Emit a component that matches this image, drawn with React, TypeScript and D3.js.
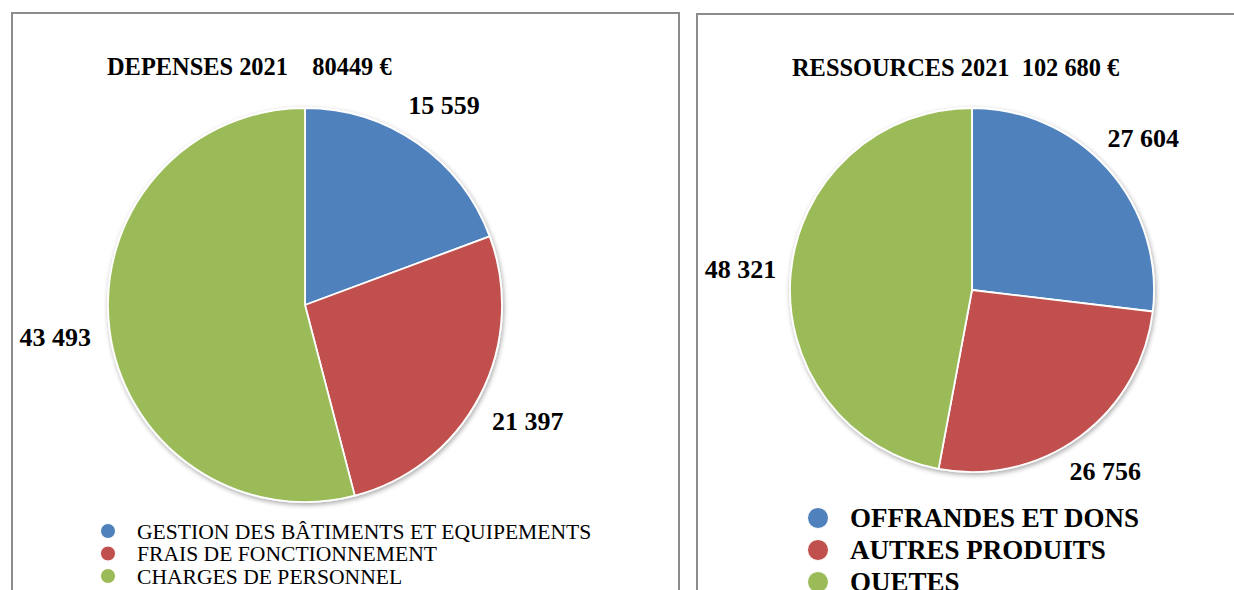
import React from "react";
import * as d3 from "d3";

const depCategories = ["GESTION DES BÂTIMENTS ET EQUIPEMENTS", "FRAIS DE FONCTIONNEMENT", "CHARGES DE PERSONNEL"];
const depValues = [15559, 21397, 43493];
const depLabels = ["15 559", "21 397", "43 493"];
const depTitle = "DEPENSES 2021\u00a0\u00a0\u00a0 80449 €";

const resCategories = ["OFFRANDES ET DONS", "AUTRES PRODUITS", "QUETES"];
const resValues = [27604, 26756, 48321];
const resLabels = ["27 604", "26 756", "48 321"];
const resTitle = "RESSOURCES 2021\u00a0 102 680 €";

const colors = ["#4F81BD", "#C0504D", "#9BBB59"];
const FONT = "'Liberation Serif', 'Times New Roman', serif";
const LABEL_SIZE = 26;

type PieProps = {
  cx: number; cy: number; r: number; values: number[]; labels: string[]; pad: number; id: string;
};

function Pie({ cx, cy, r, values, labels, pad, id }: PieProps) {
  const pie = d3.pie<number>().sort(null).value((d) => d);
  const arcs = pie(values);
  const arc = d3.arc<d3.PieArcDatum<number>>().innerRadius(0).outerRadius(r);
  return (
    <g transform={`translate(${cx},${cy})`}>
      <g filter={`url(#shadow-${id})`}>
        {arcs.map((a, i) => (
          <path key={i} d={arc(a) || ""} fill={colors[i]} stroke="#ffffff" strokeWidth={1.8} strokeLinejoin="round" />
        ))}
      </g>
      {arcs.map((a, i) => {
        const mid = (a.startAngle + a.endAngle) / 2;
        const s = Math.sin(mid);
        const c = Math.cos(mid);
        const w = LABEL_SIZE * 2.75;
        const h = LABEL_SIZE * 0.75;
        const R = r + pad + Math.abs(s) * w / 2 + Math.abs(c) * h / 2;
        const x = R * s;
        const y = -R * c;
        return (
          <text key={i} x={x} y={y} dy="0.35em" textAnchor="middle" fontFamily={FONT} fontWeight="bold" fontSize={LABEL_SIZE} fill="#000">
            {labels[i]}
          </text>
        );
      })}
    </g>
  );
}

export default function App() {
  return (
    <svg width={1234} height={590} style={{ position: "absolute", left: 0, top: 0, background: "#fff" }}>
      <defs>
        {["l", "r"].map((id) => (
          <filter key={id} id={`shadow-${id}`} x="-20%" y="-20%" width="140%" height="140%">
            <feGaussianBlur in="SourceAlpha" stdDeviation="2.5" />
            <feOffset dx="1" dy="2" result="ob" />
            <feComponentTransfer>
              <feFuncA type="linear" slope="0.35" />
            </feComponentTransfer>
            <feMerge>
              <feMergeNode />
              <feMergeNode in="SourceGraphic" />
            </feMerge>
          </filter>
        ))}
      </defs>
      <rect x={0} y={0} width={1234} height={590} fill="#fff" />
      {/* panel borders */}
      <rect x={12} y={13} width={667} height={600} fill="none" stroke="#8c8c8c" strokeWidth={2} />
      <rect x={697} y={14} width={600} height={600} fill="none" stroke="#8c8c8c" strokeWidth={2} />

      {/* left chart */}
      <text x={107} y={75} fontFamily={FONT} fontWeight="bold" fontSize={24.4} fill="#000" style={{ whiteSpace: "pre" }}>
        {depTitle}
      </text>
      <Pie cx={305} cy={305} r={197} values={depValues} labels={depLabels} pad={18} id="l" />
      {depCategories.map((c, i) => (
        <g key={c}>
          <circle cx={108} cy={531 + i * 22.5} r={7.5} fill={colors[i]} stroke="#fff" strokeWidth={1} />
          <text x={137} y={531 + i * 22.5} dy="0.35em" fontFamily={FONT} fontSize={21.6} fill="#000">
            {c}
          </text>
        </g>
      ))}

      {/* right chart */}
      <text x={792} y={76} fontFamily={FONT} fontWeight="bold" fontSize={24.4} fill="#000" style={{ whiteSpace: "pre" }}>
        {resTitle}
      </text>
      <Pie cx={972} cy={290} r={182} values={resValues} labels={resLabels} pad={14} id="r" />
      {resCategories.map((c, i) => (
        <g key={c}>
          <circle cx={818} cy={518 + i * 32} r={10.5} fill={colors[i]} stroke="#fff" strokeWidth={1} />
          <text x={850} y={518 + i * 32} dy="0.35em" fontFamily={FONT} fontWeight="bold" fontSize={27} fill="#000">
            {c}
          </text>
        </g>
      ))}
    </svg>
  );
}
